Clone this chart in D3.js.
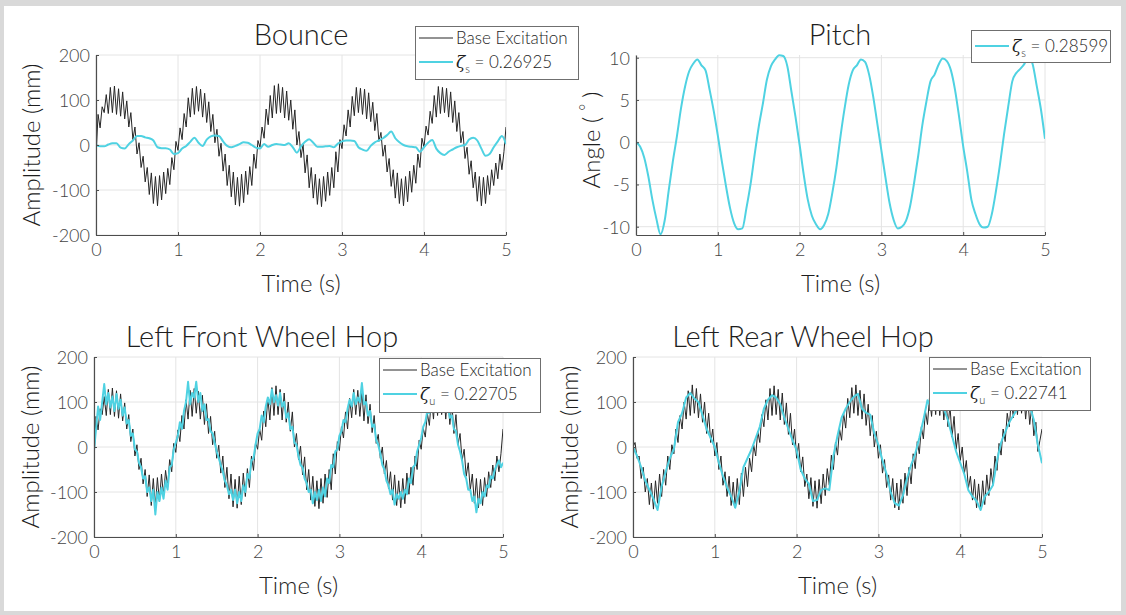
<!DOCTYPE html>
<html>
<head>
<meta charset="utf-8">
<script src="https://cdn.jsdelivr.net/npm/d3@7"></script>
<style>
  body { margin: 0; background: #fff; }
  svg { display: block; font-family: Lato, "Open Sans", sans-serif; font-weight: 300; }
</style>
</head>
<body>
<svg id="fig" width="1126" height="615"></svg>
<script>
// ---- data ----
// fine series: one value every 0.025 s (t = 0 .. 5)
const baseFront = [
  -28, 68, 38, 85, 72, 112, 70, 128, 72, 131,
  68, 125, 64, 118, 58, 98, 40, 72, 12, 40,
  -20, 5, -50, -25, -82, -50, -110, -62, -130, -70,
  -135, -68, -122, -60, -108, -52, -88, -28, -55, 8,
  -12, 38, 12, 70, 40, 105, 62, 126, 68, 130,
  75, 124, 62, 115, 50, 96, 30, 68, 5, 35,
  -25, 4, -58, -20, -90, -45, -115, -60, -133, -72,
  -136, -65, -128, -58, -110, -48, -90, -20, -52, 10,
  -5, 40, 15, 80, 45, 110, 60, 132, 70, 136,
  72, 128, 60, 120, 55, 100, 35, 78, 0, 30,
  -28, 2, -62, -22, -95, -50, -118, -65, -132, -75,
  -137, -70, -125, -60, -112, -50, -95, -15, -60, 12,
  -8, 45, 20, 78, 40, 108, 65, 128, 72, 126,
  68, 124, 58, 116, 52, 95, 32, 70, 8, 28,
  -25, 0, -60, -30, -92, -55, -118, -62, -130, -75,
  -135, -70, -126, -58, -105, -45, -85, -20, -50, 15,
  -5, 42, 22, 75, 48, 110, 62, 130, 70, 128,
  72, 126, 62, 118, 50, 98, 30, 72, 5, 30,
  -30, -5, -65, -35, -95, -60, -125, -70, -135, -72,
  -130, -68, -110, -55, -90, -40, -75, -20, -55, -15,
  40
];

const frontUnsprung = [
  -8, 40, 90, 60, 100, 140, 95, 120, 88, 112,
  80, 118, 85, 105, 70, 88, 52, 60, 25, 30,
  -5, -10, -35, -45, -70, -65, -100, -90, -120, -95,
  -150, -100, -120, -90, -115, -75, -95, -45, -40, -5,
  10, 25, 55, 40, 80, 100, 145, 95, 120, 110,
  145, 100, 120, 80, 95, 60, 62, 35, 30, 10,
  -10, -25, -40, -55, -75, -85, -105, -95, -118, -95,
  -125, -100, -120, -85, -100, -60, -70, -30, -25, 5,
  30, 40, 70, 55, 90, 110, 95, 128, 100, 115,
  92, 120, 90, 100, 65, 75, 40, 45, 10, 5,
  -20, -40, -45, -70, -80, -100, -95, -125, -100, -118,
  -95, -120, -90, -110, -70, -80, -40, -45, -10, -5,
  25, 35, 60, 55, 85, 105, 90, 120, 95, 110,
  100, 142, 95, 100, 70, 80, 45, 50, 15, 5,
  -15, -40, -50, -75, -85, -105, -95, -128, -105, -115,
  -100, -115, -95, -105, -70, -80, -45, -40, -10, 5,
  20, 45, 55, 80, 75, 100, 90, 115, 95, 110,
  90, 105, 85, 95, 65, 70, 40, 35, 5, -10,
  -30, -60, -70, -95, -95, -120, -110, -145, -115, -125,
  -100, -110, -85, -90, -65, -70, -50, -40, -30, -45,
  -35
];

const baseRear = [
  0, 10, -25, -20, -70, -45, -100, -70, -128, -80,
  -138, -75, -125, -60, -110, -50, -85, -20, -50, 5,
  -15, 40, 10, 70, 40, 100, 62, 125, 70, 138,
  75, 130, 65, 118, 55, 100, 30, 75, 10, 40,
  -20, 10, -50, -20, -85, -55, -110, -65, -130, -78,
  -135, -70, -128, -58, -110, -45, -88, -25, -55, 5,
  -20, 35, 10, 72, 45, 105, 60, 130, 70, 136,
  72, 128, 60, 120, 50, 98, 28, 75, 5, 40,
  -25, 8, -55, -22, -88, -60, -115, -68, -132, -75,
  -136, -72, -126, -60, -108, -48, -85, -18, -50, 10,
  -18, 40, 15, 75, 42, 108, 65, 132, 75, 138,
  70, 126, 62, 118, 48, 95, 25, 70, 0, 35,
  -25, 5, -58, -28, -90, -62, -118, -70, -135, -80,
  -140, -72, -125, -58, -108, -45, -82, -15, -48, 12,
  -15, 45, 18, 80, 50, 110, 68, 128, 72, 132,
  70, 125, 60, 115, 45, 92, 22, 68, -5, 30,
  -30, 0, -60, -30, -92, -65, -118, -72, -135, -82,
  -138, -75, -128, -62, -108, -48, -85, -20, -52, 8,
  -18, 40, 12, 75, 45, 105, 65, 125, 72, 132,
  75, 125, 62, 112, 50, 90, 25, 55, -10, 15,
  40
];

// coarse series: one value every 0.05 s (t = 0 .. 5)
const bounceSprung = [
  0, -3, -3, 1, 4, 4, -6, -8, 2, 10,
  20, 20, 17, 15, 10, -5, -7, -7, -10, -20,
  -18, -8, -2, 7, 16, 5, -2, 12, 19, 21,
  20, 8, -2, -5, -2, 2, 6, 5, 0, -6,
  -8, 2, -4, 0, 2, 1, 0, 4, -5, -17,
  -3, 7, 13, 5, -4, -4, -3, -2, -5, 3,
  8, 10, 10, 9, -5, -10, -13, -2, 6, 10,
  15, 22, 30, 15, 6, 0, -3, -4, -5, -15,
  -5, 5, 11, -8, -18, -22, -15, -10, -5, -2,
  0, 12, 16, 10, -8, -24, -20, -5, 8, 20,
  2
];

const pitchSprung = [
  0, -0.5, -1.8, -4.0, -6.8, -9.1, -10.9, -9.3, -5.7, -2.3,
  0.7, 4.0, 6.6, 8.4, 9.3, 9.8, 9.1, 8.5, 6.2, 3.7,
  0.8, -2.3, -5.2, -7.8, -9.6, -10.3, -10.2, -7.8, -5.0, -1.5,
  1.8, 4.5, 7.4, 9.0, 9.8, 10.3, 10.2, 9.0, 6.0, 3.0,
  -0.3, -3.8, -6.8, -8.7, -9.7, -10.3, -9.8, -8.5, -6.0, -3.0,
  0.7, 4.0, 6.8, 8.5, 9.1, 9.8, 9.5, 8.0, 5.4, 2.2,
  -1.0, -4.2, -7.2, -9.2, -10.2, -10.0, -9.3, -7.6, -4.8, -1.6,
  2.0, 4.8, 7.2, 8.0, 9.2, 9.9, 9.6, 8.5, 6.2, 3.0,
  -0.5, -3.5, -6.8, -8.5, -9.7, -10.1, -10.0, -8.5, -5.8, -2.6,
  1.0, 4.2, 7.2, 8.2, 8.7, 9.3, 10.2, 9.2, 6.6, 3.9,
  0.4
];

const rearUnsprung = [
  0, -20, -45, -75, -95, -115, -140, -88, -55, -25,
  -5, 55, 75, 110, 120, 108, 100, 70, 40, 20,
  0, -35, -65, -90, -110, -135, -98, -45, -25, -5,
  20, 45, 85, 105, 115, 110, 95, 65, 40, 15,
  -7, -50, -70, -82, -120, -118, -96, -92, -96, -20,
  25, 65, 85, 100, 112, 118, 85, 76, 72, 30,
  5, -30, -60, -100, -125, -130, -108, -70, -40, -15,
  20, 60, 104, 86, 95, 100, 85, 60, 25, -10,
  -35, -60, -96, -110, -120, -140, -110, -100, -85, -30,
  10, 33, 55, 70, 85, 90, 95, 92, 60, 5,
  -36
];

const timeTicks = [0, 1, 2, 3, 4, 5];
const ampTicks = [-200, -100, 0, 100, 200];
const angleTicks = [-10, -5, 0, 5, 10];

const BLACK = "#262626";
const CYAN = "#4fd2e2";

const svg = d3.select("#fig");

// light frame round the whole figure
svg.append("rect").attr("x", 0).attr("y", 0).attr("width", 1126).attr("height", 6).attr("fill", "#d9d9d9");
svg.append("rect").attr("x", 0).attr("y", 0).attr("width", 4).attr("height", 615).attr("fill", "#d9d9d9");
svg.append("rect").attr("x", 0).attr("y", 611).attr("width", 1126).attr("height", 4).attr("fill", "#d9d9d9");
svg.append("rect").attr("x", 1121).attr("y", 0).attr("width", 5).attr("height", 615).attr("fill", "#d9d9d9");

const panels = [
  {
    id: "p1", title: "Bounce", titleX: 301, titleY: 45,
    left: 96, right: 506, top: 55, bottom: 235,
    yDomain: [-200, 200], yTicks: ampTicks,
    yLabel: "Amplitude (mm)", yLabelX: 40, yLabelY: 145,
    series: [
      { values: baseFront, dt: 0.025, color: BLACK, width: 1, curve: d3.curveLinear },
      { values: bounceSprung, dt: 0.05, color: CYAN, width: 2, curve: d3.curveMonotoneX }
    ],
    legend: { x: 415, y: 26, w: 163, h: 53, rows: [
      { color: BLACK, width: 1, text: "Base Excitation" },
      { color: CYAN, width: 2, sub: "s", value: "0.26925" }
    ] }
  },
  {
    id: "p2", title: "Pitch", titleX: 840, titleY: 45,
    left: 636, right: 1045, top: 55, bottom: 235,
    yDomain: [-10.98, 10.32], yTicks: angleTicks,
    yLabel: "angle", yLabelX: 600, yLabelY: 140,
    series: [
      { values: pitchSprung, dt: 0.05, color: CYAN, width: 2, curve: d3.curveMonotoneX }
    ],
    legend: { x: 971, y: 30, w: 139, h: 32, rows: [
      { color: CYAN, width: 2, sub: "s", value: "0.28599" }
    ] }
  },
  {
    id: "p3", title: "Left Front Wheel Hop", titleX: 262, titleY: 347,
    left: 94, right: 503, top: 357, bottom: 537,
    yDomain: [-200, 200], yTicks: ampTicks,
    yLabel: "Amplitude (mm)", yLabelX: 39, yLabelY: 447,
    series: [
      { values: baseFront, dt: 0.025, color: BLACK, width: 1, curve: d3.curveLinear },
      { values: frontUnsprung, dt: 0.025, color: CYAN, width: 2, curve: d3.curveLinear }
    ],
    legend: { x: 379, y: 358, w: 161, h: 54, rows: [
      { color: BLACK, width: 1, text: "Base Excitation" },
      { color: CYAN, width: 2, sub: "u", value: "0.22705" }
    ] }
  },
  {
    id: "p4", title: "Left Rear Wheel Hop", titleX: 803, titleY: 347,
    left: 633, right: 1042, top: 357, bottom: 537,
    yDomain: [-200, 200], yTicks: ampTicks,
    yLabel: "Amplitude (mm)", yLabelX: 578, yLabelY: 447,
    series: [
      { values: baseRear, dt: 0.025, color: BLACK, width: 1, curve: d3.curveLinear },
      { values: rearUnsprung, dt: 0.05, color: CYAN, width: 2, curve: d3.curveLinear }
    ],
    legend: { x: 929, y: 357, w: 161, h: 53, rows: [
      { color: BLACK, width: 1, text: "Base Excitation" },
      { color: CYAN, width: 2, sub: "u", value: "0.22741" }
    ] }
  }
];

function drawPanel(p) {
  const x = d3.scaleLinear().domain([0, 5]).range([p.left, p.right]);
  const y = d3.scaleLinear().domain(p.yDomain).range([p.bottom, p.top]);
  const g = svg.append("g");

  // grid
  g.append("g").selectAll("line").data(timeTicks).join("line")
    .attr("x1", d => x(d)).attr("x2", d => x(d))
    .attr("y1", p.top).attr("y2", p.bottom)
    .attr("stroke", "#e4e4e4").attr("stroke-width", 1);
  g.append("g").selectAll("line").data(p.yTicks).join("line")
    .attr("x1", p.left).attr("x2", p.right)
    .attr("y1", d => y(d)).attr("y2", d => y(d))
    .attr("stroke", "#e4e4e4").attr("stroke-width", 1);

  // data
  svg.append("clipPath").attr("id", "clip-" + p.id)
    .append("rect").attr("x", p.left).attr("y", p.top - 2)
    .attr("width", p.right - p.left).attr("height", p.bottom - p.top + 2);

  p.series.forEach(s => {
    const line = d3.line()
      .x((d, i) => x(i * s.dt))
      .y(d => y(d))
      .curve(s.curve);
    g.append("path")
      .attr("clip-path", `url(#clip-${p.id})`)
      .attr("d", line(s.values))
      .attr("fill", "none")
      .attr("stroke", s.color)
      .attr("stroke-width", s.width)
      .attr("stroke-linejoin", "round");
  });

  // axes
  const xAxis = g.append("g")
    .attr("transform", `translate(0, ${p.bottom})`)
    .call(d3.axisBottom(x).tickValues(timeTicks).tickFormat(d => String(d))
      .tickSizeInner(-3).tickSizeOuter(0).tickPadding(8));
  const yAxis = g.append("g")
    .attr("transform", `translate(${p.left}, 0)`)
    .call(d3.axisLeft(y).tickValues(p.yTicks).tickFormat(d => String(d))
      .tickSizeInner(-3).tickSizeOuter(0).tickPadding(6));

  [xAxis, yAxis].forEach(a => {
    a.select(".domain").attr("stroke", "#4d4d4d").attr("stroke-width", 1.2);
    a.selectAll(".tick line").attr("stroke", "#4d4d4d");
    a.selectAll(".tick text")
      .attr("fill", "#444")
      .style("font-size", "18px")
      .style("font-family", "Lato, sans-serif")
      .style("font-weight", 300);
  });
  xAxis.selectAll(".tick text").attr("dy", "0.71em");
  yAxis.selectAll(".tick text").attr("dy", "0.36em");

  // title
  g.append("text")
    .attr("x", p.titleX).attr("y", p.titleY)
    .attr("text-anchor", "middle")
    .attr("fill", "#1e1e1e")
    .style("font-size", "29px")
    .text(p.title);

  // x label
  g.append("text")
    .attr("x", (p.left + p.right) / 2).attr("y", p.bottom + 57)
    .attr("text-anchor", "middle")
    .attr("fill", "#1e1e1e")
    .style("font-size", "24px")
    .text("Time (s)");

  // y label
  const yl = g.append("text")
    .attr("transform", `translate(${p.yLabelX}, ${p.yLabelY}) rotate(-90)`)
    .attr("text-anchor", "middle")
    .attr("fill", "#1e1e1e")
    .style("font-size", "24px");
  if (p.yLabel === "angle") {
    yl.append("tspan").text("Angle (\u2009\u2009");
    yl.append("tspan").attr("dy", -8).style("font-size", "17px").text("°");
    yl.append("tspan").attr("dy", 8).text("\u2009\u2009)");
  } else {
    yl.text(p.yLabel);
  }

  drawLegend(p.legend);
}

function drawLegend(L) {
  const g = svg.append("g").attr("transform", `translate(${L.x}, ${L.y})`);
  g.append("rect")
    .attr("x", 0.5).attr("y", 0.5)
    .attr("width", L.w).attr("height", L.h)
    .attr("fill", "#fff")
    .attr("stroke", "#6f6f6f").attr("stroke-width", 1);

  const rowH = 24;
  const firstY = L.rows.length === 1 ? L.h / 2 : 12;
  L.rows.forEach((r, i) => {
    const cy = firstY + i * rowH;
    g.append("line")
      .attr("x1", 4).attr("x2", 38)
      .attr("y1", cy).attr("y2", cy)
      .attr("stroke", r.color).attr("stroke-width", r.width);
    const t = g.append("text")
      .attr("x", 41).attr("y", cy + 6)
      .attr("fill", "#1e1e1e")
      .style("font-size", "17px");
    if (r.text) {
      t.text(r.text);
    } else {
      t.append("tspan").style("font-family", "'DejaVu Serif', serif").style("font-style", "italic").text("ζ");
      t.append("tspan").attr("dy", 5).style("font-size", "11px").text(r.sub);
      t.append("tspan").attr("dy", -5).text(" = " + r.value);
    }
  });
}

panels.forEach(drawPanel);
</script>
</body>
</html>
